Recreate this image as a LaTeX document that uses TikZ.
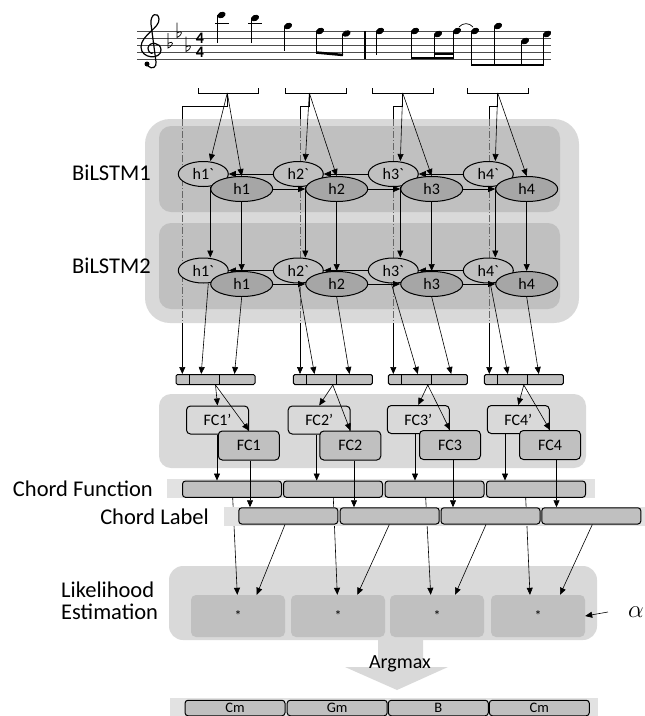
\documentclass[tikz,border=0pt]{standalone}
\usepackage{amsmath}
\usepackage{fontspec}
\setmainfont{Carlito}
\usetikzlibrary{arrows.meta,shapes.geometric}
\definecolor{panelgrey}{RGB}{217,217,217}
\definecolor{layergrey}{RGB}{192,192,192}
\definecolor{stategrey}{RGB}{166,166,166}
\definecolor{stripgrey}{RGB}{226,226,226}
\newcommand{\notehead}[2]{\fill[rotate around={25:(#1,#2)}] (#1,#2) ellipse (4.3pt and 3pt);}
\newcommand{\flatsign}[2]{\draw[line width=0.7pt] (#1,#2-12) -- (#1,#2+3) .. controls (#1+6,#2) and (#1+6,#2-5) .. (#1,#2-1.5);}
\tikzset{
    arr/.style={-{Triangle[length=7pt,width=6pt]}, line width=0.6pt},
    skipline/.style={line width=0.5pt, black!60, dash pattern=on 7pt off 2pt on 1pt off 2pt},
    hback/.style={draw, ellipse, line width=1pt, fill=layergrey, minimum width=50pt, minimum height=25pt, inner sep=0pt, font=\fontsize{16}{16}\selectfont},
    hfront/.style={hback, fill=stategrey, minimum width=62pt},
    catbox/.style={draw, line width=1pt, fill=layergrey, rounded corners=1.5pt, minimum width=79pt, minimum height=10pt, inner sep=0pt},
    fcback/.style={draw, line width=1pt, fill=panelgrey, rounded corners=4pt, minimum width=62pt, minimum height=28pt, inner sep=0pt, font=\fontsize{16}{16}\selectfont},
    fcfront/.style={fcback, fill=layergrey, minimum width=61pt, minimum height=29pt},
    chordbox/.style={draw, line width=1pt, fill=layergrey, rounded corners=3pt, minimum width=99pt, minimum height=16.3pt, inner sep=0pt, font=\fontsize{15}{15}\selectfont},
    starbox/.style={fill=layergrey, rounded corners=5pt, minimum width=94pt, minimum height=42pt, inner sep=0pt, font=\fontsize{14}{14}\selectfont},
    lbl/.style={inner sep=0pt, font=\fontsize{22.5}{22}\selectfont},
    timesig/.style={inner sep=0pt, align=center, font=\bfseries\fontsize{16}{14}\selectfont},
}

\begin{document}
\begin{tikzpicture}[x=1pt, y=-1pt]
    \useasboundingbox (0,0) rectangle (645,716);

    % melody
    \foreach \y in {31,38,45,52,59} \draw[line width=0.5pt, black!70] (137,\y) -- (551,\y);
    \draw[line width=1.6pt] (365,31) -- (365,59);
    \draw[line width=1.2pt] (148,66) .. controls (152,70) and (157,67) .. (156,62) -- (151,24)
        .. controls (150,14) and (158,11) .. (159,19) .. controls (160,28) and (141,35) .. (141,47)
        .. controls (141,59) and (161,60) .. (161,50) .. controls (161,42) and (149,41) .. (148,48)
        .. controls (148,52) and (151,54) .. (153,53);
    \fill (147,64) circle (2.5pt);
    \flatsign{168}{45} \flatsign{177}{34.5} \flatsign{186}{48.5}
    \node[timesig] (ts) at (200,45) {4\\4};
    \foreach \x/\y in {221.5/15, 255/18, 288/26, 320/31, 346.5/33.5, 380/31, 415/31, 438/34, 457/31, 475/31, 498/26, 525/41, 547/34}
        \notehead{\x}{\y}
    \foreach \x/\ya/\yb in {217.5/15/43, 251/18/43, 284.3/26/51, 316.5/31/52.5, 342.7/33.5/55, 376.3/31/55, 411.3/31/58, 434.3/34/58, 453.3/31/58, 471.3/31/65, 494.3/26/65, 521.3/41/65, 543.3/34/65}
        \draw[line width=0.7pt] (\x,\ya) -- (\x,\yb);
    \draw[line width=2.5pt] (316.2,52.5) -- (343,55);
    \draw[line width=2.5pt] (411,58) -- (453.6,58);
    \draw[line width=2pt] (434,54) -- (453.6,54);
    \draw[line width=2.5pt] (471,65) -- (543.6,65);
    \draw[line width=0.6pt] (215,23.5) -- (229,23.5);
    \draw[line width=0.6pt] (248,23.5) -- (262,23.5);
    \draw[line width=0.7pt] (459,27) .. controls (463,22.5) and (469,22.5) .. (473,27);
    \foreach \l/\r in {198/258.7, 285.7/346.7, 372.3/433.3, 467.3/528.3}
        \draw[line width=0.6pt] (\l,88) |- (\r,93) -- (\r,88);

    % BiLSTM layers
    \fill[panelgrey, rounded corners=25pt] (145,119) rectangle (579,323);
    \fill[layergrey, rounded corners=12pt] (159,126) rectangle (560,212);
    \fill[layergrey, rounded corners=12pt] (159,223) rectangle (560,309);
    \node[lbl, anchor=east] (lstm1) at (151,173) {BiLSTM1};
    \node[lbl, anchor=east] (lstm2) at (151,266) {BiLSTM2};

    \foreach \i/\cx in {1/215.5, 2/332.8, 3/427.8, 4/523.8} {
        \node[catbox] (cat\i) at (\cx,379.5) {};
        \draw[line width=0.8pt] ([xshift=13.4]cat\i.north west) -- ([xshift=13.4]cat\i.south west);
        \draw[line width=0.8pt] ([xshift=44]cat\i.north west) -- ([xshift=44]cat\i.south west);
    }

    \foreach \i/\bx/\sx in {1/227.3/182.3, 2/309.3/300, 3/402.7/393.3, 4/497.7/489.3} {
        \coordinate (in\i) at (\bx,93);
        \coordinate (ska\i) at (\sx,106);
        \coordinate (skb\i) at (\sx,119);
        \coordinate (skc\i) at (\sx,323);
        \draw[line width=0.6pt] (in\i) |- (ska\i) -- (skb\i);
        \draw[skipline] (skb\i) -- (skc\i);
        \draw[arr] (skc\i) -- (skc\i |- cat\i.north);
    }

    \foreach \i in {1,...,4} {
        \node[hback] (hpa\i) at ({203.3+95*(\i-1)},174) {h\i\textasciigrave};
        \node[hback] (hpb\i) at ({203.3+95*(\i-1)},270.5) {h\i\textasciigrave};
    }
    \foreach \i/\j in {1/2, 2/3, 3/4} {
        \draw[arr] (hpa\j.west) -- (hpa\i.east);
        \draw[arr] (hpb\j.west) -- (hpb\i.east);
    }
    \foreach \i in {1,...,4} {
        \node[hfront] (ha\i) at ({241.7+95*(\i-1)},189) {h\i};
        \node[hfront] (hb\i) at ({241.7+95*(\i-1)},284) {h\i};
    }
    \foreach \i/\j in {1/2, 2/3, 3/4} {
        \draw[arr] (ha\i.east) -- (ha\j.west);
        \draw[arr] (hb\i.east) -- (hb\j.west);
    }
    \foreach \i/\da/\db/\dc in {1/5/25.7/59, 2/0/21.7/56.7, 3/-2/30/63.4, 4/2/24/55} {
        \draw[arr] (in\i) -- ([xshift=7]hpa\i.north);
        \draw[arr] (in\i) -- (ha\i.north);
        \draw[arr] ([xshift=7]hpa\i.south) -- ([xshift=7]hpb\i.north);
        \draw[arr] (ha\i.south) -- (hb\i.north);
        \draw[arr] ([xshift=\da]hpb\i.south) -- ([xshift=\db]cat\i.north west);
        \draw[arr] (hb\i.south) -- ([xshift=\dc]cat\i.north west);
    }

    % fully connected
    \fill[panelgrey, rounded corners=12pt] (159,394) rectangle (586,468);
    \foreach \i/\px/\py/\fx/\fy in {1/217.5/420/248.8/445.5, 2/319.2/420/350.3/445.5, 3/418.3/419.5/450/445, 4/518.3/419.5/550/445} {
        \node[fcback] (fcp\i) at (\px,\py) {FC\i’};
        \node[fcfront] (fc\i) at (\fx,\fy) {FC\i};
        \draw[arr] (cat\i.south) -- (fcp\i.north);
        \draw[arr] (cat\i.south) -- (fc\i.north);
    }

    % chord function
    \fill[stripgrey] (167,479) rectangle (595,497.5);
    \node[lbl, anchor=east] (cflabel) at (153,488.5) {Chord Function};
    \foreach \i/\x in {1/232, 2/333, 3/434.5, 4/536}
        \node[chordbox] (cf\i) at (\x,489.2) {};
    \foreach \i/\d in {1/-0.5, 2/-2.5, 3/-3.3, 4/-13.3}
        \draw[arr] ([xshift=\d]fcp\i.south) -- ([xshift=\d]fcp\i.south |- cf\i.north);

    % likelihood
    \fill[panelgrey, rounded corners=14pt] (169,566) rectangle (597,640);
    \fill[panelgrey] (378,639) -- (423,639) -- (423,667) -- (448,667) -- (397,690) -- (345,667) -- (378,667) -- cycle;
    \node[lbl, anchor=west, align=left] (lhlabel) at (61,601) {Likelihood\\Estimation};
    \foreach \i/\x in {1/238, 2/338, 3/437, 4/538}
        \node[starbox] (ll\i) at (\x,616) {*};
    \foreach \i/\a/\b in {1/0.7/-0.7, 2/0.3/-0.7, 3/-8.8/-6.3, 4/-10.3/-8}
        \draw[arr] ([xshift=\a]cf\i.south) -- ([xshift=\b]ll\i.north);

    % chord label
    \fill[stripgrey] (224,507) rectangle (645,525.5);
    \node[lbl, anchor=east] (cllabel) at (209,516.5) {Chord Label};
    \foreach \i/\x in {1/288.3, 2/389.7, 3/490.5, 4/591.3}
        \node[chordbox] (cl\i) at (\x,515.9) {};
    \foreach \i/\d in {1/1.2, 2/3.7, 3/3, 4/6.5}
        \draw[arr] ([xshift=\d]fc\i.south) -- ([xshift=\d]fc\i.south |- cl\i.north);
    \foreach \i/\a/\b in {1/-3.3/18.7, 2/-0.4/19.3, 3/-4.5/18, 4/1/22}
        \draw[arr] ([xshift=\a]cl\i.south) -- ([xshift=\b]ll\i.north);

    \node[inner sep=0pt, font=\fontsize{23}{23}\selectfont] (alpha) at (636,612) {$\alpha$};
    \draw[arr] ([xshift=-20]alpha.west) -- (ll4.east);
    \node[inner sep=0pt, font=\fontsize{20}{20}\selectfont] (argmax) at (400,664) {Argmax};

    % output chords
    \fill[stripgrey] (170,698) rectangle (598,716);
    \foreach \i/\x/\t in {1/235/Cm, 2/337.2/Gm, 3/438.3/B, 4/539.3/Cm}
        \node[chordbox, minimum width=100pt, minimum height=15.5pt, font=\fontsize{14.5}{14.5}\selectfont] (out\i) at (\x,708) {\t};
\end{tikzpicture}
\end{document}
